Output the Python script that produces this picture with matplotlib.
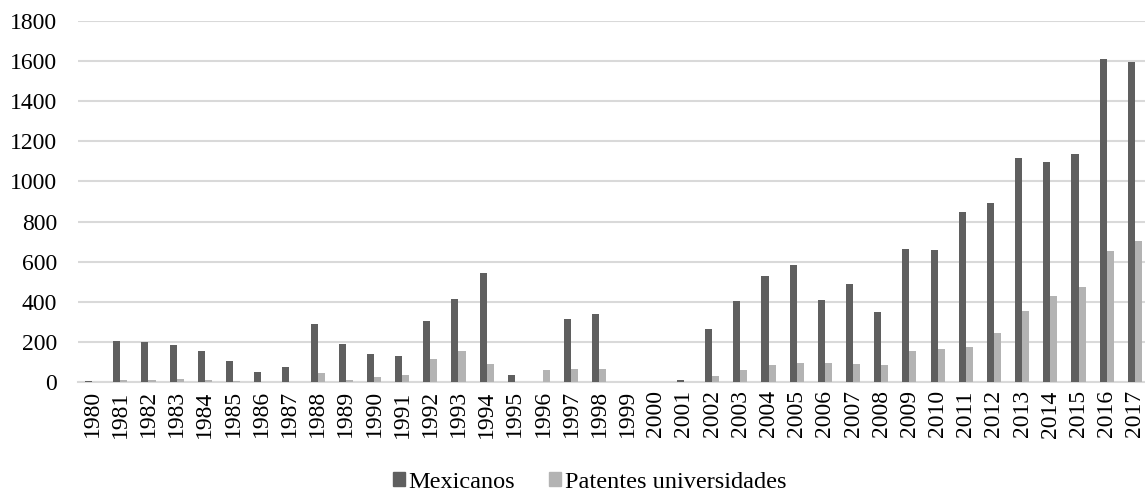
import numpy as np
import matplotlib
matplotlib.use("Agg")
import matplotlib.pyplot as plt
from matplotlib.patches import Patch

plt.rcParams['font.family'] = ['Liberation Serif', 'DejaVu Serif']

years = list(range(1980, 2018))

# Mexican patents granted per year
mexicanos = [7, 203, 197, 186, 155, 107, 48, 76, 288, 190,
             140, 128, 303, 415, 545, 33, 0, 315, 340, 0,
             0, 8, 263, 405, 527, 582, 407, 487, 348, 665,
             657, 848, 892, 1117, 1095, 1137, 1612, 1597]

# university patents per year
universidades = [0, 10, 12, 15, 12, 5, 0, 0, 45, 12,
                 25, 35, 115, 153, 90, 0, 62, 64, 64, 0,
                 0, 0, 30, 58, 85, 95, 95, 90, 85, 154,
                 164, 176, 243, 353, 430, 472, 653, 703]

dark = '#5f5f5f'
light = '#b3b3b3'
grid = '#d9d9d9'

fig = plt.figure(figsize=(11.45, 4.96), dpi=100)
ax = fig.add_axes([78 / 1145, 1 - 382 / 496, (1149 - 78) / 1145, (382 - 21) / 496])

x = np.arange(len(years))
w = 0.25
ax.bar(x - w / 2, mexicanos, width=w, color=dark, zorder=3)
ax.bar(x + w / 2, universidades, width=w, color=light, zorder=3)

ax.set_xlim(-0.5, len(years) - 0.5)
ax.set_ylim(0, 1800)
ax.set_yticks(range(0, 1801, 200))
ax.yaxis.grid(True, color=grid, linewidth=1.5, zorder=0)
ax.set_axisbelow(True)

ax.set_xticks(x)
ax.set_xticklabels([str(y) for y in years], rotation=90, fontsize=17)
ax.tick_params(axis='y', labelsize=17, length=0, pad=15)
ax.tick_params(axis='x', length=0, pad=6)

for s in ['top', 'right', 'left']:
    ax.spines[s].set_visible(False)
ax.spines['bottom'].set_color(grid)
ax.spines['bottom'].set_linewidth(1.5)

handles = [Patch(color=dark, label='Mexicanos'),
           Patch(color=light, label='Patentes universidades')]
fig.legend(handles=handles, loc='center', bbox_to_anchor=(0.515, 1 - 482 / 496),
           ncol=2, frameon=False, fontsize=17.5, handlelength=0.5, handleheight=0.5,
           handletextpad=0.15, columnspacing=1.4)

fig.savefig('out.png', dpi=100)
